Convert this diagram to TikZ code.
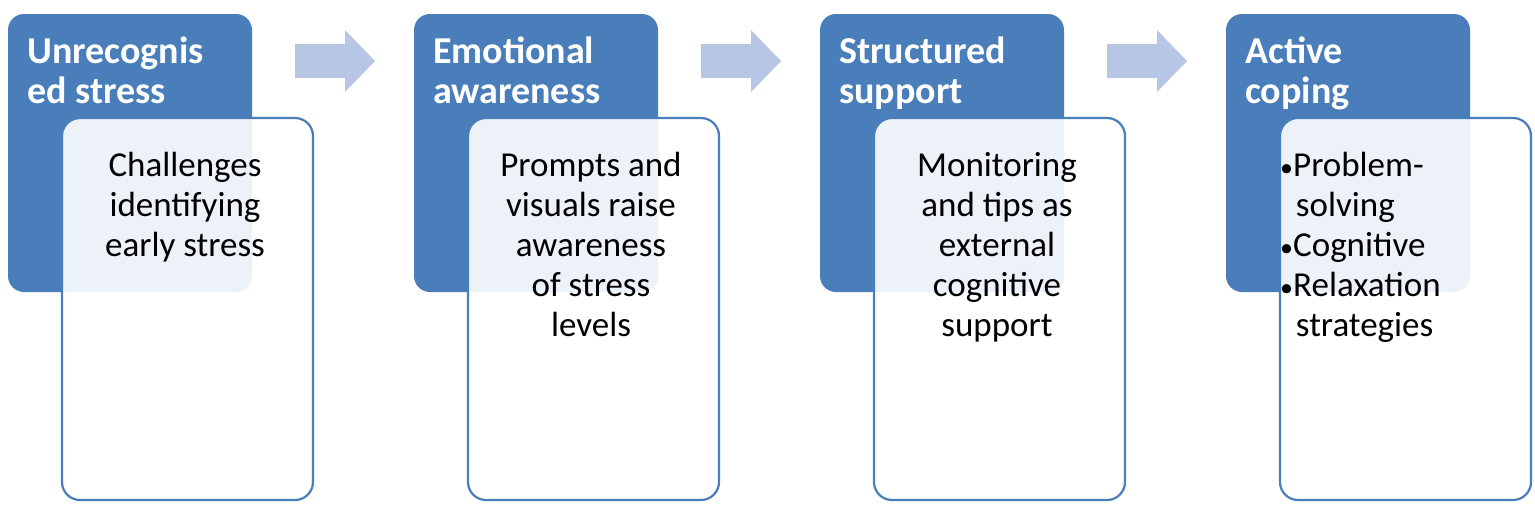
\documentclass[tikz,border=0pt]{standalone}
\usepackage{fontspec}
\setmainfont{Carlito}
\definecolor{hb}{HTML}{4A7EBB}
\definecolor{ar}{HTML}{B7C6E5}
\begin{document}
\begin{tikzpicture}[x=1pt,y=-1pt,
  head/.style={fill=hb,draw=none,rounded corners=16pt},
  body/.style={fill=white,fill opacity=0.9,draw=hb,line width=2.2pt,rounded corners=18pt},
  htxt/.style={anchor=north west,text=white,font=\fontsize{38}{40}\selectfont\bfseries,align=left,inner sep=0pt},
  btxt/.style={anchor=north,font=\fontsize{35}{40}\selectfont,align=center,inner sep=0pt},
  arr/.style={fill=ar,draw=none}]
\useasboundingbox (0,0) rectangle (1535,509);
\foreach \o/\h/\b [count=\i] in {0/{Unrecognis\\ed stress}/{Challenges\\identifying\\early stress},
  406/{Emotional\\awareness}/{Prompts and\\visuals raise\\awareness\\of stress\\levels},
  812/{Structured\\support}/{Monitoring\\and tips as\\external\\cognitive\\support}}{
  \path[head] (8+\o,14) rectangle (252+\o,292);
  \path[body] (62+\o,118) rectangle (313+\o,500);
  \node[htxt] (h\i) at (27+\o,37) {\h};
  \node[btxt] (b\i) at (185+\o,152) {\b};
}
\path[head] (1226,14) rectangle (1470,292);
\path[body] (1280,118) rectangle (1531,500);
\node[htxt] (h4) at (1245,37) {Active\\coping};
\node[anchor=north west,font=\fontsize{35}{40}\selectfont,align=left,inner sep=0pt] (b4) at (1280,152)
 {{\fontsize{26}{40}\selectfont\textbullet}Problem-\\\hspace*{0.45em}solving\\{\fontsize{26}{40}\selectfont\textbullet}Cognitive\\{\fontsize{26}{40}\selectfont\textbullet}Relaxation\\\hspace*{0.45em}strategies};
\foreach \o [count=\i] in {0,406,812}{
  \path[arr] (295+\o,44) -- (345+\o,44) -- (345+\o,30) -- (375+\o,61) -- (345+\o,92) -- (345+\o,78) -- (295+\o,78) -- cycle;
}
\end{tikzpicture}
\end{document}
